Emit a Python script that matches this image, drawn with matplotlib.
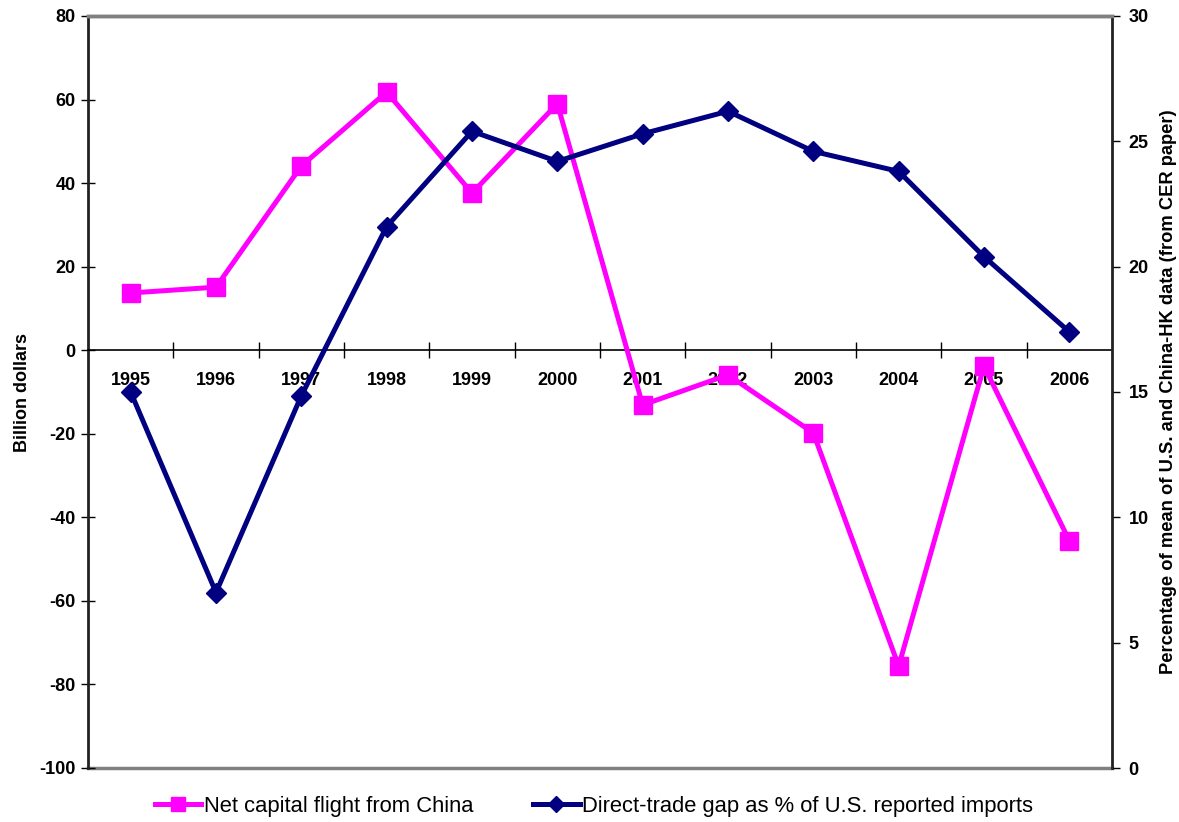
import matplotlib
matplotlib.use("Agg")
import matplotlib.pyplot as plt
from matplotlib.lines import Line2D

plt.rcParams['font.family'] = ['Liberation Sans', 'DejaVu Sans']
plt.rcParams['axes.unicode_minus'] = False

years = ['1995', '1996', '1997', '1998', '1999', '2000', '2001', '2002', '2003', '2004', '2005', '2006']
capital_flight = [13.7, 15.1, 44.1, 61.8, 37.6, 59.0, -13.1, -5.9, -19.8, -75.6, -3.8, -45.6]
trade_gap_pct = [15.0, 7.0, 14.85, 21.6, 25.4, 24.2, 25.3, 26.2, 24.6, 23.8, 20.4, 17.4]

pink = '#FF00FF'
navy = '#000080'
gray = '#808080'

fig = plt.figure(figsize=(11.79, 8.22), dpi=100)
ax = fig.add_axes([88/1179, 1-768/822, (1112-88)/1179, (768-16)/822])
ax2 = ax.twinx()

x = list(range(len(years)))
ax.plot(x, capital_flight, color=pink, lw=3.6, marker='s', ms=13, zorder=3, clip_on=False)
ax2.plot(x, trade_gap_pct, color=navy, lw=3.6, marker='D', ms=10, zorder=3, clip_on=False)

ax.set_xlim(-0.5, len(years) - 0.5)
ax.set_ylim(-100, 80)
ax.set_yticks(range(-100, 81, 20))
ax2.set_ylim(0, 30)
ax2.set_yticks(range(0, 31, 5))

# x axis at zero
ax.spines['bottom'].set_position(('data', 0))
ax.spines['bottom'].set_color('black')
ax.spines['bottom'].set_linewidth(1.2)
ax.set_xticks([i + 0.5 for i in range(len(years) - 1)])
ax.set_xticklabels([])
ax.set_xticks(x, minor=True)
ax.set_xticklabels(years, minor=True, fontweight='bold', fontsize=13)
ax.tick_params(axis='x', which='major', direction='inout', length=12, width=1)
ax.tick_params(axis='x', which='minor', length=0, pad=16)

for a in (ax, ax2):
    a.spines['top'].set_color(gray)
    a.spines['top'].set_linewidth(2.5)
ax2.spines['bottom'].set_visible(False)
ax.axhline(-100, color=gray, lw=2.5, clip_on=False, zorder=1)

ax.spines['left'].set_linewidth(2)
ax.spines['left'].set_color('#222222')
ax2.spines['right'].set_linewidth(2)
ax2.spines['right'].set_color('#222222')
ax2.spines['left'].set_visible(False)

ax.tick_params(axis='y', direction='inout', length=10, width=1, labelsize=13, pad=4)
ax2.tick_params(axis='y', direction='out', length=6, width=1, labelsize=13, pad=6)
for lab in ax.get_yticklabels() + ax2.get_yticklabels():
    lab.set_fontweight('bold')

ax.set_ylabel('Billion dollars', fontweight='bold', fontsize=13, labelpad=6)
ax2.set_ylabel('Percentage of mean of U.S. and China-HK data (from CER paper)', fontweight='bold', fontsize=13.2, labelpad=8)

handles = [Line2D([0], [0], color=pink, lw=3.6, marker='s', ms=10),
           Line2D([0], [0], color=navy, lw=3.6, marker='D', ms=8)]
fig.legend(handles, ['Net capital flight from China', 'Direct-trade gap as % of U.S. reported imports'],
           loc='center', bbox_to_anchor=(594/1179, 1-806/822), ncol=2, frameon=False,
           fontsize=15.8, handlelength=2.1, handletextpad=0.1, columnspacing=2.75)

fig.savefig('out.png', dpi=100)
